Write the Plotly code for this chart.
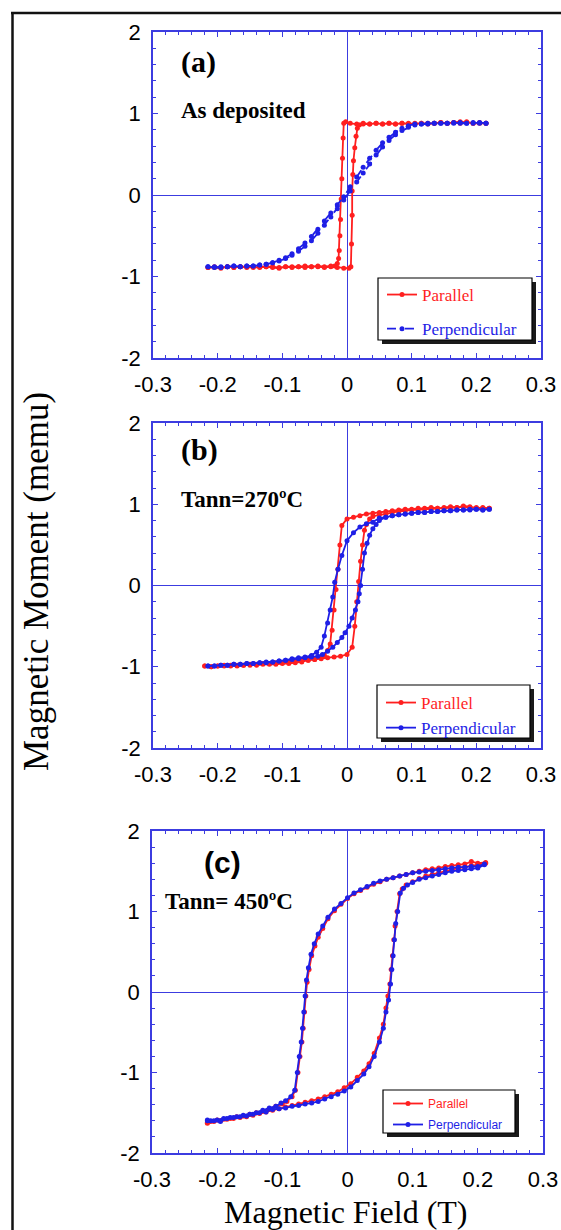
import plotly.graph_objects as go

# ---------------- data ----------------
a_par_down_x = [0.215, 0.205, 0.195, 0.185, 0.175, 0.165, 0.155, 0.145, 0.135, 0.125,
                0.115, 0.105, 0.095, 0.085, 0.075, 0.065, 0.055, 0.045, 0.035, 0.025,
                0.015, 0.005, -0.002, -0.005, -0.006, -0.007, -0.008, -0.009, -0.010, -0.011,
                -0.012, -0.013, -0.015, -0.019, -0.025, -0.035, -0.045, -0.055, -0.065, -0.075,
                -0.085, -0.095, -0.105, -0.115, -0.125, -0.135, -0.145, -0.155, -0.165, -0.175,
                -0.185, -0.195, -0.205, -0.215]
a_par_down_y = [0.88, 0.89, 0.88, 0.90, 0.88, 0.89, 0.88, 0.89, 0.88, 0.87,
                0.88, 0.88, 0.87, 0.88, 0.87, 0.88, 0.87, 0.88, 0.87, 0.88,
                0.87, 0.88, 0.90, 0.88, 0.70, 0.45, 0.20, -0.05, -0.30, -0.50,
                -0.68, -0.78, -0.84, -0.87, -0.87, -0.88, -0.87, -0.88, -0.87, -0.88,
                -0.89, -0.88, -0.90, -0.89, -0.88, -0.89, -0.88, -0.89, -0.88, -0.89,
                -0.88, -0.90, -0.89, -0.89]
a_par_up_x = [-0.215, -0.205, -0.195, -0.185, -0.175, -0.165, -0.155, -0.145, -0.135, -0.125,
              -0.115, -0.105, -0.095, -0.085, -0.075, -0.065, -0.055, -0.045, -0.035, -0.025,
              -0.015, -0.005, 0.003, 0.006, 0.007, 0.008, 0.008, 0.009, 0.010, 0.012,
              0.014, 0.016, 0.019, 0.025, 0.035, 0.045, 0.055, 0.065, 0.075, 0.085,
              0.095, 0.105, 0.115, 0.125, 0.135, 0.145, 0.155, 0.165, 0.175, 0.185,
              0.195, 0.205, 0.215]
a_par_up_y = [-0.89, -0.88, -0.89, -0.88, -0.89, -0.88, -0.88, -0.89, -0.88, -0.88,
              -0.88, -0.89, -0.88, -0.88, -0.88, -0.89, -0.88, -0.88, -0.89, -0.88,
              -0.89, -0.90, -0.90, -0.88, -0.60, -0.25, 0.05, 0.25, 0.42, 0.58,
              0.72, 0.82, 0.86, 0.87, 0.87, 0.88, 0.87, 0.88, 0.87, 0.88,
              0.88, 0.87, 0.88, 0.88, 0.88, 0.89, 0.88, 0.89, 0.90, 0.89,
              0.88, 0.88, 0.88]
a_perp_down_x = [0.215, 0.205, 0.195, 0.185, 0.175, 0.165, 0.155, 0.145, 0.135, 0.125,
                 0.115, 0.105, 0.095, 0.085, 0.075, 0.065, 0.055, 0.045, 0.035, 0.025,
                 0.015, 0.005, -0.005, -0.015, -0.025, -0.035, -0.045, -0.055, -0.065, -0.075,
                 -0.085, -0.095, -0.105, -0.115, -0.125, -0.135, -0.145, -0.155, -0.165, -0.175,
                 -0.185, -0.195, -0.205, -0.215]
a_perp_down_y = [0.88, 0.89, 0.88, 0.88, 0.89, 0.88, 0.88, 0.88, 0.88, 0.88,
                 0.87, 0.87, 0.85, 0.82, 0.77, 0.71, 0.64, 0.55, 0.45, 0.34,
                 0.22, 0.10, -0.02, -0.12, -0.22, -0.32, -0.42, -0.51, -0.59, -0.66,
                 -0.72, -0.77, -0.80, -0.83, -0.85, -0.86, -0.87, -0.87, -0.88, -0.87,
                 -0.88, -0.89, -0.88, -0.88]
a_perp_up_x = [-0.215, -0.205, -0.195, -0.185, -0.175, -0.165, -0.155, -0.145, -0.135, -0.125,
               -0.115, -0.105, -0.095, -0.085, -0.075, -0.065, -0.055, -0.045, -0.035, -0.025,
               -0.015, -0.005, 0.005, 0.015, 0.025, 0.035, 0.045, 0.055, 0.065, 0.075,
               0.085, 0.095, 0.105, 0.115, 0.125, 0.135, 0.145, 0.155, 0.165, 0.175,
               0.185, 0.195, 0.205, 0.215]
a_perp_up_y = [-0.88, -0.89, -0.88, -0.88, -0.87, -0.88, -0.87, -0.87, -0.86, -0.85,
               -0.83, -0.81, -0.78, -0.74, -0.69, -0.63, -0.56, -0.47, -0.37, -0.27,
               -0.17, -0.06, 0.05, 0.16, 0.27, 0.38, 0.49, 0.59, 0.67, 0.74,
               0.79, 0.83, 0.86, 0.87, 0.87, 0.88, 0.88, 0.88, 0.89, 0.88,
               0.88, 0.89, 0.88, 0.88]
b_par_down_x = [0.22, 0.21, 0.20, 0.19, 0.18, 0.17, 0.16, 0.15, 0.14, 0.13,
                0.12, 0.11, 0.10, 0.09, 0.08, 0.07, 0.06, 0.05, 0.04, 0.03,
                0.02, 0.01, 0.0, -0.008, -0.011, -0.014, -0.017, -0.020, -0.023, -0.026,
                -0.030, -0.035, -0.04, -0.05, -0.06, -0.07, -0.08, -0.09, -0.10, -0.11,
                -0.12, -0.13, -0.14, -0.15, -0.16, -0.17, -0.18, -0.19, -0.20, -0.21,
                -0.22]
b_par_down_y = [0.95, 0.96, 0.95, 0.97, 0.98, 0.96, 0.97, 0.96, 0.95, 0.96,
                0.95, 0.95, 0.94, 0.94, 0.93, 0.92, 0.91, 0.90, 0.89, 0.88,
                0.86, 0.84, 0.82, 0.74, 0.50, 0.20, -0.05, -0.30, -0.55, -0.72,
                -0.80, -0.86, -0.88, -0.91, -0.92, -0.94, -0.95, -0.96, -0.96, -0.97,
                -0.97, -0.97, -0.98, -0.98, -0.98, -0.99, -0.98, -0.99, -0.99, -1.00,
                -0.99]
b_par_up_x = [-0.22, -0.21, -0.20, -0.19, -0.18, -0.17, -0.16, -0.15, -0.14, -0.13,
              -0.12, -0.11, -0.10, -0.09, -0.08, -0.07, -0.06, -0.05, -0.04, -0.03,
              -0.02, -0.01, 0.0, 0.008, 0.012, 0.015, 0.018, 0.021, 0.024, 0.027,
              0.030, 0.035, 0.04, 0.05, 0.06, 0.07, 0.08, 0.09, 0.10, 0.11,
              0.12, 0.13, 0.14, 0.15, 0.16, 0.17, 0.18, 0.19, 0.20, 0.21,
              0.22]
b_par_up_y = [-0.99, -1.00, -0.99, -0.98, -0.99, -0.98, -0.98, -0.97, -0.97, -0.96,
              -0.96, -0.95, -0.95, -0.94, -0.93, -0.92, -0.92, -0.91, -0.90, -0.89,
              -0.88, -0.87, -0.85, -0.76, -0.50, -0.20, 0.05, 0.30, 0.50, 0.68,
              0.75, 0.82, 0.85, 0.87, 0.88, 0.90, 0.91, 0.92, 0.93, 0.93,
              0.94, 0.94, 0.95, 0.95, 0.96, 0.96, 0.97, 0.96, 0.96, 0.95,
              0.95]
b_perp_down_x = [0.22, 0.21, 0.20, 0.19, 0.18, 0.17, 0.16, 0.15, 0.14, 0.13,
                 0.12, 0.11, 0.10, 0.09, 0.08, 0.07, 0.06, 0.05, 0.04, 0.03,
                 0.02, 0.01, 0.0, -0.008, -0.014, -0.019, -0.022, -0.026, -0.030, -0.035,
                 -0.040, -0.047, -0.055, -0.065, -0.075, -0.085, -0.095, -0.105, -0.115, -0.125,
                 -0.135, -0.145, -0.155, -0.165, -0.175, -0.185, -0.195, -0.205, -0.215]
b_perp_down_y = [0.94, 0.93, 0.94, 0.94, 0.93, 0.93, 0.92, 0.92, 0.91, 0.91,
                 0.90, 0.90, 0.89, 0.88, 0.87, 0.86, 0.84, 0.83, 0.78, 0.76,
                 0.72, 0.65, 0.55, 0.37, 0.20, 0.04, -0.14, -0.30, -0.46, -0.62,
                 -0.76, -0.82, -0.86, -0.88, -0.89, -0.90, -0.92, -0.93, -0.94, -0.95,
                 -0.95, -0.96, -0.96, -0.97, -0.97, -0.98, -0.98, -0.99, -0.99]
b_perp_up_x = [-0.215, -0.205, -0.195, -0.185, -0.175, -0.165, -0.155, -0.145, -0.135, -0.125,
               -0.115, -0.105, -0.095, -0.085, -0.075, -0.065, -0.055, -0.045, -0.038, -0.030,
               -0.022, -0.015, -0.008, -0.003, 0.003, 0.008, 0.013, 0.017, 0.019, 0.021,
               0.024, 0.027, 0.031, 0.035, 0.040, 0.045, 0.050, 0.060, 0.070, 0.080,
               0.090, 0.100, 0.110, 0.120, 0.130, 0.140, 0.150, 0.160, 0.170, 0.180,
               0.190, 0.200, 0.210, 0.220]
b_perp_up_y = [-0.99, -0.99, -0.98, -0.98, -0.97, -0.97, -0.96, -0.96, -0.95, -0.94,
               -0.94, -0.93, -0.92, -0.91, -0.90, -0.89, -0.88, -0.87, -0.85, -0.81,
               -0.76, -0.70, -0.64, -0.58, -0.50, -0.40, -0.30, -0.20, -0.10, 0.00,
               0.20, 0.40, 0.52, 0.62, 0.70, 0.75, 0.80, 0.84, 0.86, 0.87,
               0.88, 0.89, 0.90, 0.90, 0.91, 0.91, 0.92, 0.92, 0.93, 0.93,
               0.93, 0.94, 0.93, 0.94]
c_par_down_x = [0.212, 0.200, 0.190, 0.180, 0.170, 0.160, 0.150, 0.140, 0.130, 0.120,
                0.110, 0.100, 0.090, 0.080, 0.070, 0.060, 0.050, 0.040, 0.030, 0.020,
                0.010, 0.000, -0.010, -0.020, -0.030, -0.038, -0.045, -0.050, -0.055, -0.059,
                -0.062, -0.064, -0.066, -0.068, -0.070, -0.073, -0.076, -0.080, -0.085, -0.093,
                -0.100, -0.110, -0.120, -0.130, -0.140, -0.150, -0.160, -0.170, -0.180, -0.190,
                -0.200, -0.210, -0.215]
c_par_down_y = [1.61, 1.60, 1.62, 1.59, 1.58, 1.57, 1.56, 1.54, 1.53, 1.52,
                1.50, 1.48, 1.46, 1.44, 1.42, 1.40, 1.37, 1.34, 1.30, 1.26,
                1.22, 1.16, 1.09, 1.01, 0.91, 0.79, 0.68, 0.57, 0.45, 0.28,
                0.12, -0.05, -0.25, -0.45, -0.62, -0.80, -1.00, -1.22, -1.30, -1.36,
                -1.39, -1.42, -1.45, -1.48, -1.50, -1.52, -1.54, -1.55, -1.57, -1.58,
                -1.59, -1.61, -1.62]
c_par_up_x = [-0.215, -0.205, -0.195, -0.185, -0.175, -0.165, -0.155, -0.145, -0.135, -0.125,
              -0.115, -0.105, -0.095, -0.085, -0.075, -0.065, -0.055, -0.045, -0.035, -0.025,
              -0.015, -0.005, 0.005, 0.015, 0.025, 0.033, 0.041, 0.049, 0.055, 0.059,
              0.062, 0.065, 0.067, 0.069, 0.071, 0.073, 0.076, 0.080, 0.084, 0.090,
              0.100, 0.110, 0.120, 0.130, 0.140, 0.150, 0.160, 0.170, 0.180, 0.190,
              0.200, 0.212]
c_par_up_y = [-1.63, -1.61, -1.60, -1.58, -1.57, -1.56, -1.55, -1.53, -1.51, -1.49,
              -1.47, -1.45, -1.43, -1.41, -1.39, -1.37, -1.35, -1.33, -1.30, -1.27,
              -1.24, -1.19, -1.14, -1.06, -0.98, -0.89, -0.76, -0.57, -0.40, -0.20,
              -0.05, 0.10, 0.28, 0.45, 0.65, 0.82, 1.00, 1.22, 1.28, 1.33,
              1.37, 1.41, 1.44, 1.46, 1.48, 1.50, 1.52, 1.54, 1.55, 1.57,
              1.58, 1.60]
c_perp_down_x = [0.210, 0.200, 0.190, 0.180, 0.170, 0.160, 0.150, 0.140, 0.130, 0.120,
                 0.110, 0.100, 0.090, 0.080, 0.070, 0.060, 0.050, 0.040, 0.030, 0.020,
                 0.010, 0.000, -0.010, -0.020, -0.030, -0.038, -0.045, -0.051, -0.056, -0.060,
                 -0.063, -0.065, -0.067, -0.069, -0.071, -0.074, -0.077, -0.081, -0.087, -0.095,
                 -0.102, -0.110, -0.120, -0.130, -0.140, -0.150, -0.160, -0.170, -0.180, -0.190,
                 -0.200, -0.210, -0.215]
c_perp_down_y = [1.59, 1.56, 1.56, 1.55, 1.55, 1.54, 1.53, 1.52, 1.51, 1.50,
                 1.49, 1.48, 1.46, 1.44, 1.42, 1.40, 1.38, 1.35, 1.31, 1.27,
                 1.23, 1.17, 1.10, 1.03, 0.93, 0.82, 0.72, 0.60, 0.47, 0.30,
                 0.15, -0.05, -0.25, -0.45, -0.62, -0.80, -1.00, -1.22, -1.30, -1.35,
                 -1.38, -1.42, -1.44, -1.47, -1.50, -1.52, -1.53, -1.55, -1.56, -1.57,
                 -1.59, -1.60, -1.59]
c_perp_up_x = [-0.215, -0.205, -0.195, -0.185, -0.175, -0.165, -0.155, -0.145, -0.135, -0.125,
               -0.115, -0.105, -0.095, -0.085, -0.075, -0.065, -0.055, -0.045, -0.035, -0.025,
               -0.015, -0.005, 0.005, 0.015, 0.025, 0.033, 0.041, 0.049, 0.055, 0.059,
               0.063, 0.066, 0.068, 0.070, 0.072, 0.074, 0.077, 0.081, 0.086, 0.092,
               0.100, 0.110, 0.120, 0.130, 0.140, 0.150, 0.160, 0.170, 0.180, 0.190,
               0.200, 0.210]
c_perp_up_y = [-1.60, -1.60, -1.61, -1.57, -1.56, -1.55, -1.54, -1.52, -1.50, -1.49,
               -1.46, -1.45, -1.44, -1.42, -1.41, -1.39, -1.38, -1.36, -1.33, -1.30,
               -1.27, -1.23, -1.18, -1.10, -1.02, -0.93, -0.80, -0.62, -0.45, -0.25,
               -0.10, 0.10, 0.28, 0.45, 0.65, 0.85, 1.00, 1.23, 1.29, 1.33,
               1.36, 1.40, 1.42, 1.44, 1.46, 1.48, 1.50, 1.51, 1.52, 1.53,
               1.54, 1.58]

x_tick_vals = [-0.3, -0.2, -0.1, 0, 0.1, 0.2, 0.3]
x_tick_text = ["-0.3", "-0.2", "-0.1", "0", "0.1", "0.2", "0.3"]
y_tick_vals = [-2, -1, 0, 1, 2]
y_tick_text = ["-2", "-1", "0", "1", "2"]

panel_labels = ["(a)", "(b)", "(c)"]
panel_notes = ["As deposited", "Tann=270ºC", "Tann= 450ºC"]
series_names = ["Parallel", "Perpendicular"]

# ---------------- styling ----------------
W, H = 561, 1230
RED = "#ff1f1f"
BLUE = "#1f1fe6"
AXC = "#3c3ce0"
SERIF = "Liberation Serif"
SANS = "Liberation Sans"


def px(x):
    return x / W


def py(y):
    return 1 - y / H


boxes = [(153, 541, 32, 358), (153, 541, 423, 748), (152, 543, 831, 1153)]

fig = go.Figure()
panels = [
    (a_par_down_x + a_par_up_x, a_par_down_y + a_par_up_y,
     a_perp_down_x + a_perp_up_x, a_perp_down_y + a_perp_up_y),
    (b_par_down_x + b_par_up_x, b_par_down_y + b_par_up_y,
     b_perp_down_x + b_perp_up_x, b_perp_down_y + b_perp_up_y),
    (c_par_down_x + c_par_up_x, c_par_down_y + c_par_up_y,
     c_perp_down_x + c_perp_up_x, c_perp_down_y + c_perp_up_y),
]
legend_fonts = [dict(family=SERIF, size=17), dict(family=SERIF, size=17), dict(family=SANS, size=12)]
legend_gaps = [9, 0, 2]
perp_dash = ["dash", "solid", "solid"]

for i, (pxs, pys, qxs, qys) in enumerate(panels):
    sfx = "" if i == 0 else str(i + 1)
    leg = "legend" + sfx
    fig.add_trace(go.Scatter(
        x=pxs, y=pys, mode="lines+markers", xaxis="x" + sfx, yaxis="y" + sfx,
        name='<span style="color:%s">%s</span>' % (RED, series_names[0]),
        line=dict(color=RED, width=1.8), marker=dict(color=RED, size=5, symbol="circle"),
        legend=leg, legendgroup="p%d" % i))
    fig.add_trace(go.Scatter(
        x=qxs, y=qys, mode="lines+markers", xaxis="x" + sfx, yaxis="y" + sfx,
        name='<span style="color:%s">%s</span>' % (BLUE, series_names[1]),
        line=dict(color=BLUE, width=1.8, dash=perp_dash[i]),
        marker=dict(color=BLUE, size=5, symbol="circle"),
        legend=leg, legendgroup="q%d" % i))

layout = dict(width=W, height=H, margin=dict(l=0, r=0, t=0, b=0, autoexpand=False),
              paper_bgcolor="white", plot_bgcolor="white", showlegend=True)

legend_boxes = [(378, 532, 278, 340), (377, 530, 685, 738), (383, 515, 1090, 1133)]
legend_pos = [(382, 277), (381, 685), (388, 1089)]
shapes = []
for i, (l, r, t, b) in enumerate(boxes):
    sfx = "" if i == 0 else str(i + 1)
    common = dict(showline=True, linecolor=AXC, linewidth=1.5, mirror="ticks",
                  ticks="inside", ticklen=5, tickwidth=1.2, tickcolor=AXC,
                  showgrid=False, zeroline=True, zerolinecolor=AXC, zerolinewidth=1,
                  tickfont=dict(family=SANS, size=22, color="black"),
                  tickmode="array", fixedrange=True, automargin=False)
    layout["xaxis" + sfx] = dict(
        common, domain=[px(l), px(r)], range=[-0.3, 0.3], anchor="y" + sfx,
        tickvals=x_tick_vals, ticktext=x_tick_text, ticklabelstandoff=6,
        minor=dict(tickmode="linear", tick0=0, dtick=0.02, ticks="inside", ticklen=3,
                   tickcolor=AXC, tickwidth=1))
    layout["yaxis" + sfx] = dict(
        common, domain=[py(b), py(t)], range=[-2, 2], anchor="x" + sfx,
        tickvals=y_tick_vals, ticktext=y_tick_text, ticklabelstandoff=6,
        minor=dict(tickmode="linear", tick0=0, dtick=0.2, ticks="inside", ticklen=3,
                   tickcolor=AXC, tickwidth=1))
    lx, ly = legend_pos[i]
    layout["legend" + sfx] = dict(
        x=px(lx), y=py(ly), xanchor="left", yanchor="top", bgcolor="rgba(0,0,0,0)",
        borderwidth=0, font=legend_fonts[i],
        tracegroupgap=legend_gaps[i], traceorder="grouped", itemwidth=30)
    # legend frame with a drop shadow
    bl, br, bt, bb = legend_boxes[i]
    shapes.append(dict(type="rect", xref="paper", yref="paper", x0=px(bl + 4), x1=px(br + 4),
                       y0=py(bb + 4), y1=py(bt + 4), fillcolor="#1a1a1a", line=dict(width=0),
                       layer="above"))
    shapes.append(dict(type="rect", xref="paper", yref="paper", x0=px(bl), x1=px(br),
                       y0=py(bb), y1=py(bt), fillcolor="white",
                       line=dict(color="black", width=1.2), layer="above"))

# frame lines of the figure
shapes.append(dict(type="line", xref="paper", yref="paper", x0=px(12.5), x1=px(12.5),
                   y0=py(12), y1=0, line=dict(color="#111111", width=2.5)))
shapes.append(dict(type="line", xref="paper", yref="paper", x0=px(11), x1=1,
                   y0=py(13), y1=py(13), line=dict(color="#111111", width=2.5)))
# zero line of panel (c) running slightly past the frame
shapes.append(dict(type="line", xref="paper", yref="y3", x0=px(543), x1=px(548),
                   y0=0, y1=0, line=dict(color=AXC, width=1)))
layout["shapes"] = shapes

ann = []
label_pos = [(179, 62, SERIF), (179, 450, SERIF), (202, 862, SANS)]
note_pos = [(179, 110), (179, 499), (163, 902)]
for i in range(3):
    x, y, fam = label_pos[i]
    ann.append(dict(text="<b>%s</b>" % panel_labels[i], x=px(x), y=py(y), xref="paper",
                    yref="paper", xanchor="left", yanchor="middle", showarrow=False,
                    font=dict(family=fam, size=30, color="black")))
    nx, ny = note_pos[i]
    ann.append(dict(text="<b>%s</b>" % panel_notes[i], x=px(nx), y=py(ny), xref="paper",
                    yref="paper", xanchor="left", yanchor="middle", showarrow=False,
                    font=dict(family=SERIF, size=23, color="black")))
ann.append(dict(text="Magnetic Moment (memu)", x=px(36), y=py(582), xref="paper", yref="paper",
                xanchor="center", yanchor="middle", showarrow=False, textangle=-90,
                font=dict(family=SERIF, size=35, color="black")))
ann.append(dict(text="Magnetic Field (T)", x=px(345), y=py(1212), xref="paper", yref="paper",
                xanchor="center", yanchor="middle", showarrow=False,
                font=dict(family=SERIF, size=32, color="black")))
layout["annotations"] = ann

fig.update_layout(**layout)
fig.write_html("out.html", post_script="document.body.style.margin='0px';",
               config={"displayModeBar": False})
